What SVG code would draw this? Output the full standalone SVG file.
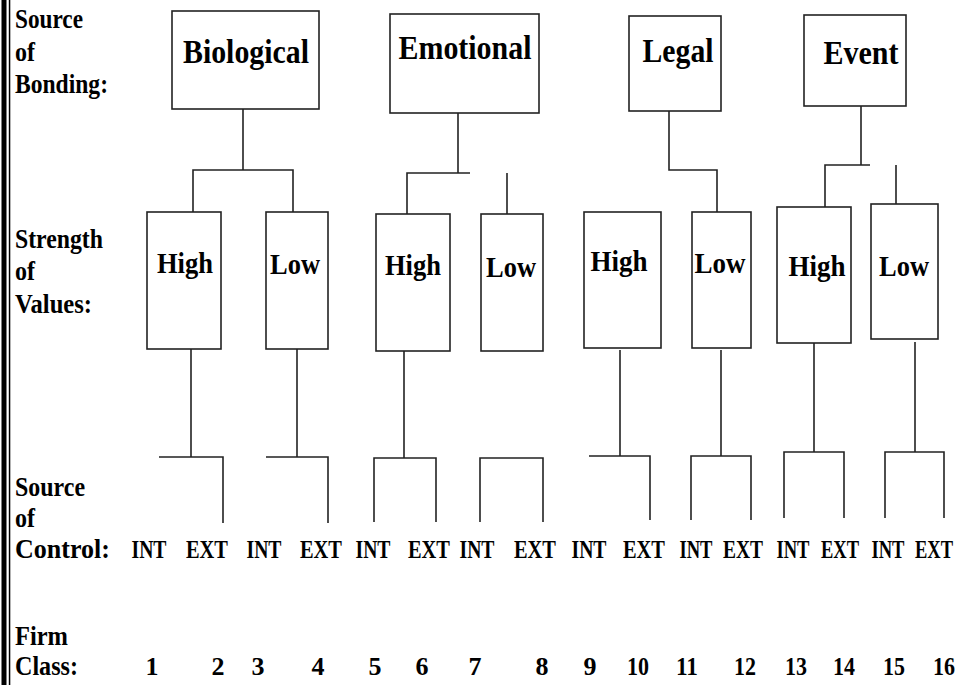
<svg xmlns="http://www.w3.org/2000/svg" width="968" height="685" viewBox="0 0 968 685">
  <style>
    .box { fill: #fff; stroke: #222; stroke-width: 1.6; }
    .wire { fill: none; stroke: #222; stroke-width: 1.6; }
    text { font-family: "Liberation Serif", "Times New Roman", serif; font-weight: bold; fill: #000; }
    .big { font-size: 34px; text-anchor: middle; }
    .mid { font-size: 29px; text-anchor: middle; }
    .row { font-size: 28px; }
    .ctl { font-size: 26px; text-anchor: middle; }
    .num { font-size: 26px; text-anchor: middle; }
  </style>

  <rect x="0" y="0" width="968" height="685" fill="#fff"/>

  <!-- page rule on the left edge -->
  <g id="margin-rule">
    <rect x="1.5" y="0" width="5" height="685" fill="#000"/>
    <rect x="8.8" y="0" width="1.5" height="685" fill="#000"/>
  </g>

  <!-- row captions -->
  <g id="row-labels">
    <text class="row" x="15" y="28" textLength="68" lengthAdjust="spacingAndGlyphs">Source</text>
    <text class="row" x="15" y="61" textLength="20" lengthAdjust="spacingAndGlyphs">of</text>
    <text class="row" x="15" y="93" textLength="93" lengthAdjust="spacingAndGlyphs">Bonding:</text>
    <text class="row" x="15" y="248" textLength="88" lengthAdjust="spacingAndGlyphs">Strength</text>
    <text class="row" x="15" y="280" textLength="20" lengthAdjust="spacingAndGlyphs">of</text>
    <text class="row" x="15" y="313" textLength="77" lengthAdjust="spacingAndGlyphs">Values:</text>
    <text class="row" x="15" y="496" textLength="70" lengthAdjust="spacingAndGlyphs">Source</text>
    <text class="row" x="15" y="527" textLength="20" lengthAdjust="spacingAndGlyphs">of</text>
    <text class="row" x="15" y="558" textLength="95" lengthAdjust="spacingAndGlyphs">Control:</text>
    <text class="row" x="15" y="645" textLength="53" lengthAdjust="spacingAndGlyphs">Firm</text>
    <text class="row" x="15" y="675" textLength="63" lengthAdjust="spacingAndGlyphs">Class:</text>
  </g>

  <!-- connectors -->
  <g id="connectors">
    <path class="wire" d="M243,109 V170 M193,212 V170 H293 V212"/>
    <path class="wire" d="M458,113 V173 M407,214 V173 H470 M507,173 V214"/>
    <path class="wire" d="M669,111 V170 H717 V212"/>
    <path class="wire" d="M861,106 V165 M825,207 V165 H870 M896,165 V204"/>

    <path class="wire" d="M191,349 V457 M159,457 H223 V523"/>
    <path class="wire" d="M297,349 V457 M266,457 H328 V523"/>
    <path class="wire" d="M404,351 V458 M374,522 V458 H436 V522"/>
    <path class="wire" d="M480,522 V458 H543 V522"/>
    <path class="wire" d="M620,350 V456 M589,456 H650 V520"/>
    <path class="wire" d="M721,350 V456 M691,520 V456 H751 V520"/>
    <path class="wire" d="M814,343 V452 M784,518 V452 H844 V518"/>
    <path class="wire" d="M915,342 V452 M885,518 V452 H944 V518"/>
  </g>

  <!-- sources of bonding -->
  <g id="biological">
    <rect class="box" x="172" y="11" width="147" height="98"/>
    <text class="big" x="246" y="63" textLength="126" lengthAdjust="spacingAndGlyphs">Biological</text>
  </g>
  <g id="emotional">
    <rect class="box" x="390" y="14" width="149" height="99"/>
    <text class="big" x="465" y="59" textLength="133" lengthAdjust="spacingAndGlyphs">Emotional</text>
  </g>
  <g id="legal">
    <rect class="box" x="629" y="16" width="92" height="95"/>
    <text class="big" x="678" y="62" textLength="71" lengthAdjust="spacingAndGlyphs">Legal</text>
  </g>
  <g id="event">
    <rect class="box" x="804" y="15" width="102" height="91"/>
    <text class="big" x="861" y="64" textLength="75" lengthAdjust="spacingAndGlyphs">Event</text>
  </g>

  <!-- strength of values -->
  <g id="biological-high">
    <rect class="box" x="147" y="212" width="74" height="137"/>
    <text class="mid" x="185" y="273" textLength="56" lengthAdjust="spacingAndGlyphs">High</text>
  </g>
  <g id="biological-low">
    <rect class="box" x="266" y="212" width="62" height="137"/>
    <text class="mid" x="295" y="274" textLength="50" lengthAdjust="spacingAndGlyphs">Low</text>
  </g>
  <g id="emotional-high">
    <rect class="box" x="376" y="214" width="74" height="137"/>
    <text class="mid" x="413" y="275" textLength="56" lengthAdjust="spacingAndGlyphs">High</text>
  </g>
  <g id="emotional-low">
    <rect class="box" x="481" y="214" width="62" height="137"/>
    <text class="mid" x="511" y="277" textLength="50" lengthAdjust="spacingAndGlyphs">Low</text>
  </g>
  <g id="legal-high">
    <rect class="box" x="584" y="212" width="77" height="136"/>
    <text class="mid" x="619" y="271" textLength="57" lengthAdjust="spacingAndGlyphs">High</text>
  </g>
  <g id="legal-low">
    <rect class="box" x="692" y="212" width="59" height="136"/>
    <text class="mid" x="720" y="273" textLength="51" lengthAdjust="spacingAndGlyphs">Low</text>
  </g>
  <g id="event-high">
    <rect class="box" x="777" y="207" width="74" height="136"/>
    <text class="mid" x="817" y="276" textLength="57" lengthAdjust="spacingAndGlyphs">High</text>
  </g>
  <g id="event-low">
    <rect class="box" x="871" y="204" width="67" height="135"/>
    <text class="mid" x="904" y="276" textLength="50" lengthAdjust="spacingAndGlyphs">Low</text>
  </g>

  <!-- source of control -->
  <g id="control-labels">
    <text class="ctl" x="149" y="558" textLength="35" lengthAdjust="spacingAndGlyphs">INT</text>
    <text class="ctl" x="207" y="558" textLength="42" lengthAdjust="spacingAndGlyphs">EXT</text>
    <text class="ctl" x="264" y="558" textLength="35" lengthAdjust="spacingAndGlyphs">INT</text>
    <text class="ctl" x="321" y="558" textLength="42" lengthAdjust="spacingAndGlyphs">EXT</text>
    <text class="ctl" x="373" y="558" textLength="35" lengthAdjust="spacingAndGlyphs">INT</text>
    <text class="ctl" x="429" y="558" textLength="42" lengthAdjust="spacingAndGlyphs">EXT</text>
    <text class="ctl" x="477" y="558" textLength="35" lengthAdjust="spacingAndGlyphs">INT</text>
    <text class="ctl" x="535" y="558" textLength="42" lengthAdjust="spacingAndGlyphs">EXT</text>
    <text class="ctl" x="589" y="558" textLength="35" lengthAdjust="spacingAndGlyphs">INT</text>
    <text class="ctl" x="644" y="558" textLength="42" lengthAdjust="spacingAndGlyphs">EXT</text>
    <text class="ctl" x="696" y="558" textLength="33" lengthAdjust="spacingAndGlyphs">INT</text>
    <text class="ctl" x="743" y="558" textLength="40" lengthAdjust="spacingAndGlyphs">EXT</text>
    <text class="ctl" x="793" y="558" textLength="33" lengthAdjust="spacingAndGlyphs">INT</text>
    <text class="ctl" x="840" y="558" textLength="38" lengthAdjust="spacingAndGlyphs">EXT</text>
    <text class="ctl" x="888" y="558" textLength="33" lengthAdjust="spacingAndGlyphs">INT</text>
    <text class="ctl" x="934" y="558" textLength="38" lengthAdjust="spacingAndGlyphs">EXT</text>
  </g>

  <!-- firm class numbers -->
  <g id="class-numbers">
    <text class="num" x="152" y="675">1</text>
    <text class="num" x="218" y="675">2</text>
    <text class="num" x="258" y="675">3</text>
    <text class="num" x="318" y="675">4</text>
    <text class="num" x="375" y="675">5</text>
    <text class="num" x="422" y="675">6</text>
    <text class="num" x="475" y="675">7</text>
    <text class="num" x="542" y="675">8</text>
    <text class="num" x="590" y="675">9</text>
    <text class="num" x="638" y="675" textLength="22" lengthAdjust="spacingAndGlyphs">10</text>
    <text class="num" x="687" y="675" textLength="22" lengthAdjust="spacingAndGlyphs">11</text>
    <text class="num" x="745" y="675" textLength="22" lengthAdjust="spacingAndGlyphs">12</text>
    <text class="num" x="796" y="675" textLength="22" lengthAdjust="spacingAndGlyphs">13</text>
    <text class="num" x="844" y="675" textLength="22" lengthAdjust="spacingAndGlyphs">14</text>
    <text class="num" x="894" y="675" textLength="22" lengthAdjust="spacingAndGlyphs">15</text>
    <text class="num" x="944" y="675" textLength="22" lengthAdjust="spacingAndGlyphs">16</text>
  </g>
</svg>
